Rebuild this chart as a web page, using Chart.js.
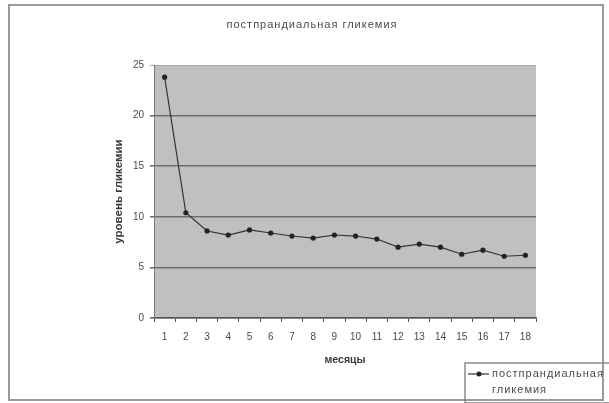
<!DOCTYPE html>
<html>
<head>
<meta charset="utf-8">
<script src="https://cdn.jsdelivr.net/npm/chart.js@4/dist/chart.umd.min.js"></script>
<style>
  body { margin: 0; background: #fff; }
  #wrap { position: absolute; left: 0; top: 0; width: 609px; height: 403px; }
</style>
</head>
<body>
<div id="wrap"><canvas id="grafico" width="609" height="403"></canvas></div>
<script>
// данные с картинки
const meses = ['1','2','3','4','5','6','7','8','9','10','11','12','13','14','15','16','17','18'];
const glicemia = [23.8, 10.4, 8.6, 8.2, 8.7, 8.4, 8.1, 7.9, 8.2, 8.1, 7.8, 7.0, 7.3, 7.0, 6.3, 6.7, 6.1, 6.2];
const yTicks = [0, 5, 10, 15, 20, 25];

const titulo = 'постпрандиальная гликемия';
const nomeSerie = ['постпрандиальная', 'гликемия'];

const fonte = '"Liberation Sans", Arial, sans-serif';
const corTexto = '#4a4a4a';

// fundo da area, moldura, titulo e legenda
const moldura = {
  id: 'moldura',
  beforeDraw(chart) {
    const { ctx, chartArea: a } = chart;
    ctx.save();
    ctx.fillStyle = '#fff';
    ctx.fillRect(0, 0, chart.width, chart.height);
    ctx.fillStyle = '#c0c0c0';
    ctx.fillRect(a.left, a.top, a.right - a.left, a.bottom - a.top);
    ctx.restore();
  },
  afterDraw(chart) {
    const ctx = chart.ctx;
    ctx.save();
    // moldura externa
    ctx.strokeStyle = '#9a9a9a';
    ctx.lineWidth = 2;
    ctx.strokeRect(9, 5, 594, 395);
    // titulo
    ctx.fillStyle = corTexto;
    ctx.font = '11px ' + fonte;
    ctx.letterSpacing = '1px';
    ctx.textAlign = 'center';
    ctx.textBaseline = 'middle';
    ctx.fillText(titulo, 312, 25);
    // legenda
    ctx.strokeStyle = '#8a8a8a';
    ctx.lineWidth = 1.5;
    ctx.strokeRect(465, 363, 160, 40);
    ctx.strokeStyle = '#333';
    ctx.lineWidth = 1.2;
    ctx.beginPath();
    ctx.moveTo(468, 374);
    ctx.lineTo(489, 374);
    ctx.stroke();
    ctx.fillStyle = '#222';
    ctx.beginPath();
    ctx.arc(479, 374, 2.5, 0, Math.PI * 2);
    ctx.fill();
    ctx.fillStyle = corTexto;
    ctx.textAlign = 'left';
    ctx.fillText(nomeSerie[0], 492, 374);
    ctx.fillText(nomeSerie[1], 492, 390);
    ctx.restore();
  }
};

const ctx = document.getElementById('grafico');
const grafico = new Chart(ctx, {
  type: 'line',
  data: {
    labels: meses,
    datasets: [{
      label: nomeSerie.join(' '),
      data: glicemia,
      borderColor: '#333',
      borderWidth: 1.2,
      backgroundColor: '#222',
      pointRadius: 2.6,
      pointBorderWidth: 0,
      tension: 0,
      fill: false
    }]
  },
  options: {
    responsive: false,
    animation: false,
    layout: { padding: { left: 112, right: 73, top: 65, bottom: 37 } },
    plugins: {
      legend: { display: false },
      title: { display: false },
      tooltip: { enabled: false }
    },
    scales: {
      x: {
        offset: true,
        afterFit(s) { s.height = 48; },
        grid: {
          offset: true,
          drawOnChartArea: false,
          drawTicks: true,
          tickLength: 4,
          color: '#555',
          lineWidth: 1
        },
        border: { display: true, color: '#555', width: 1.5 },
        ticks: { color: corTexto, font: { family: fonte, size: 10 }, padding: 9, maxRotation: 0, autoSkip: false },
        title: { display: true, text: 'месяцы', color: '#3a3a3a', font: { family: fonte, size: 10.5, weight: 'bold' }, padding: 0 }
      },
      y: {
        min: 0,
        max: 25,
        afterFit(s) { s.width = 42; },
        afterBuildTicks(s) { s.ticks = yTicks.map(v => ({ value: v })); },
        grid: {
          drawTicks: true,
          tickLength: 4,
          color: c => c.tick && c.tick.value === 25 ? '#a8a8a8' : '#6e6e6e',
          lineWidth: c => c.tick && c.tick.value === 25 ? 1 : 1.6
        },
        border: { display: true, color: '#777', width: 1 },
        ticks: { color: corTexto, font: { family: fonte, size: 10 }, padding: 6 },
        title: { display: true, text: 'уровень гликемии', color: '#3a3a3a', font: { family: fonte, size: 11.5, weight: 'bold' }, padding: 0 }
      }
    }
  },
  plugins: [moldura]
});
</script>
</body>
</html>
